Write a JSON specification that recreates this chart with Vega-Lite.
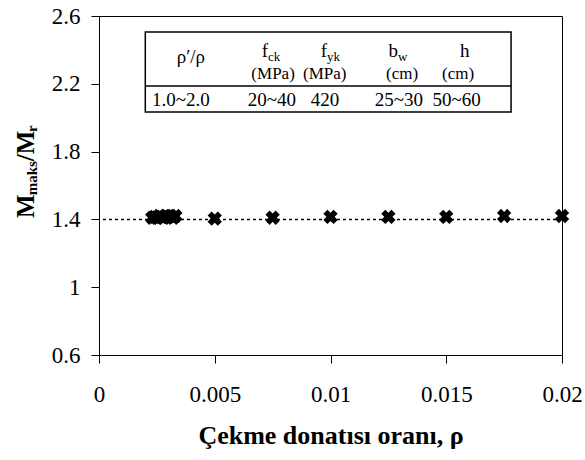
{
  "$schema": "https://vega.github.io/schema/vega-lite/v6.json",
  "width": 463,
  "height": 339,
  "autosize": {"type": "none"},
  "padding": {"left": 99, "top": 16, "right": 23, "bottom": 105},
  "background": "white",
  "data": {"values": [{}]},
  "config": {
    "font": "Liberation Serif",
    "view": {"stroke": "black", "strokeWidth": 1},
    "axis": {
      "grid": false,
      "domainColor": "black",
      "tickColor": "black",
      "labelColor": "black",
      "titleColor": "black",
      "labelFont": "Liberation Serif",
      "titleFont": "Liberation Serif",
      "labelFlush": false,
      "labelOverlap": false,
      "domainWidth": 1,
      "tickWidth": 1
    }
  },
  "datasets": {
    "points": [
      {"rho": 0.0023, "ratio": 1.41},
      {"rho": 0.0024, "ratio": 1.415},
      {"rho": 0.0025, "ratio": 1.41},
      {"rho": 0.0026, "ratio": 1.42},
      {"rho": 0.0027, "ratio": 1.415},
      {"rho": 0.0028, "ratio": 1.41},
      {"rho": 0.0029, "ratio": 1.42},
      {"rho": 0.003, "ratio": 1.415},
      {"rho": 0.0031, "ratio": 1.42},
      {"rho": 0.0032, "ratio": 1.41},
      {"rho": 0.0033, "ratio": 1.42},
      {"rho": 0.005, "ratio": 1.405},
      {"rho": 0.0075, "ratio": 1.41},
      {"rho": 0.01, "ratio": 1.415},
      {"rho": 0.0125, "ratio": 1.415},
      {"rho": 0.015, "ratio": 1.415},
      {"rho": 0.0175, "ratio": 1.42},
      {"rho": 0.02, "ratio": 1.42}
    ],
    "labels": [
      {"t": "ρ′/ρ", "x": 0.00397, "y": 2.323, "role": "headc"},
      {"t": "h", "x": 0.0158, "y": 2.358, "role": "headc"},
      {"t": "f", "x": 0.0073, "y": 2.358, "role": "head"},
      {"t": "f", "x": 0.00985, "y": 2.358, "role": "head"},
      {"t": "b", "x": 0.01292, "y": 2.358, "role": "head"},
      {"t": "ck", "x": 0.0073, "y": 2.335, "role": "sub"},
      {"t": "yk", "x": 0.00985, "y": 2.335, "role": "sub"},
      {"t": "w", "x": 0.01292, "y": 2.335, "role": "sub"},
      {"t": "(MPa)", "x": 0.00752, "y": 2.228, "role": "unit"},
      {"t": "(MPa)", "x": 0.00975, "y": 2.228, "role": "unit"},
      {"t": "(cm)", "x": 0.01309, "y": 2.228, "role": "unit"},
      {"t": "(cm)", "x": 0.01551, "y": 2.228, "role": "unit"},
      {"t": "1.0~2.0", "x": 0.00354, "y": 2.069, "role": "value"},
      {"t": "20~40", "x": 0.00747, "y": 2.069, "role": "value"},
      {"t": "420", "x": 0.00976, "y": 2.069, "role": "value"},
      {"t": "25~30", "x": 0.01295, "y": 2.069, "role": "value"},
      {"t": "50~60", "x": 0.01545, "y": 2.069, "role": "value"},
      {"t": "M", "x": -0.00281, "y": 1.408, "role": "ytitle"},
      {"t": "/M", "x": -0.00281, "y": 1.743, "role": "ytitle"},
      {"t": "maks", "x": -0.00268, "y": 1.542, "role": "ytsub"},
      {"t": "r", "x": -0.00268, "y": 1.916, "role": "ytsub"}
    ]
  },
  "layer": [
    {
      "mark": {"type": "rule", "strokeDash": [3, 3], "color": "black", "strokeWidth": 1.5},
      "encoding": {"y": {"datum": 1.4}}
    },
    {
      "data": {"name": "points"},
      "mark": {"type": "point", "shape": "cross", "angle": 45, "filled": true, "color": "black", "size": 210, "opacity": 1},
      "encoding": {
        "x": {
          "field": "rho", "type": "quantitative",
          "scale": {"domain": [0, 0.02], "nice": false, "zero": false},
          "axis": {
            "values": [0, 0.005, 0.01, 0.015, 0.02],
            "format": "~g",
            "labelFontSize": 23,
            "labelPadding": 20,
            "tickSize": 8,
            "title": "Çekme donatısı oranı, ρ",
            "titleFontSize": 26,
            "titleFontWeight": "bold",
            "titlePadding": 16
          }
        },
        "y": {
          "field": "ratio", "type": "quantitative",
          "scale": {"domain": [0.6, 2.6], "nice": false, "zero": false},
          "axis": {
            "values": [0.6, 1, 1.4, 1.8, 2.2, 2.6],
            "format": "~g",
            "labelFontSize": 23,
            "labelPadding": 11,
            "tickSize": 8,
            "title": null
          }
        }
      }
    },
    {
      "mark": {"type": "rect", "fill": "white", "stroke": "black", "strokeWidth": 1.5},
      "encoding": {
        "x": {"datum": 0.002},
        "x2": {"datum": 0.0178},
        "y": {"datum": 2.505},
        "y2": {"datum": 2.034}
      }
    },
    {
      "mark": {"type": "rule", "color": "black", "strokeWidth": 1.5},
      "encoding": {
        "x": {"datum": 0.002},
        "x2": {"datum": 0.0178},
        "y": {"datum": 2.187}
      }
    },
    {
      "data": {"name": "labels"},
      "transform": [{"filter": "datum.role === 'headc'"}],
      "mark": {"type": "text", "font": "Liberation Serif", "fontSize": 19, "align": "center", "baseline": "alphabetic", "color": "black"},
      "encoding": {
        "x": {"field": "x", "type": "quantitative"},
        "y": {"field": "y", "type": "quantitative"},
        "text": {"field": "t"}
      }
    },
    {
      "data": {"name": "labels"},
      "transform": [{"filter": "datum.role === 'head'"}],
      "mark": {"type": "text", "font": "Liberation Serif", "fontSize": 19, "align": "right", "baseline": "alphabetic", "color": "black"},
      "encoding": {
        "x": {"field": "x", "type": "quantitative"},
        "y": {"field": "y", "type": "quantitative"},
        "text": {"field": "t"}
      }
    },
    {
      "data": {"name": "labels"},
      "transform": [{"filter": "datum.role === 'sub'"}],
      "mark": {"type": "text", "font": "Liberation Serif", "fontSize": 13, "align": "left", "baseline": "alphabetic", "color": "black"},
      "encoding": {
        "x": {"field": "x", "type": "quantitative"},
        "y": {"field": "y", "type": "quantitative"},
        "text": {"field": "t"}
      }
    },
    {
      "data": {"name": "labels"},
      "transform": [{"filter": "datum.role === 'unit'"}],
      "mark": {"type": "text", "font": "Liberation Serif", "fontSize": 17, "align": "center", "baseline": "alphabetic", "color": "black"},
      "encoding": {
        "x": {"field": "x", "type": "quantitative"},
        "y": {"field": "y", "type": "quantitative"},
        "text": {"field": "t"}
      }
    },
    {
      "data": {"name": "labels"},
      "transform": [{"filter": "datum.role === 'value'"}],
      "mark": {"type": "text", "font": "Liberation Serif", "fontSize": 19, "align": "center", "baseline": "alphabetic", "color": "black"},
      "encoding": {
        "x": {"field": "x", "type": "quantitative"},
        "y": {"field": "y", "type": "quantitative"},
        "text": {"field": "t"}
      }
    },
    {
      "data": {"name": "labels"},
      "transform": [{"filter": "datum.role === 'ytitle'"}],
      "mark": {"type": "text", "font": "Liberation Serif", "fontSize": 25, "fontWeight": "bold", "angle": 270, "align": "left", "baseline": "alphabetic", "color": "black"},
      "encoding": {
        "x": {"field": "x", "type": "quantitative"},
        "y": {"field": "y", "type": "quantitative"},
        "text": {"field": "t"}
      }
    },
    {
      "data": {"name": "labels"},
      "transform": [{"filter": "datum.role === 'ytsub'"}],
      "mark": {"type": "text", "font": "Liberation Serif", "fontSize": 15, "fontWeight": "bold", "angle": 270, "align": "left", "baseline": "alphabetic", "color": "black"},
      "encoding": {
        "x": {"field": "x", "type": "quantitative"},
        "y": {"field": "y", "type": "quantitative"},
        "text": {"field": "t"}
      }
    }
  ]
}
